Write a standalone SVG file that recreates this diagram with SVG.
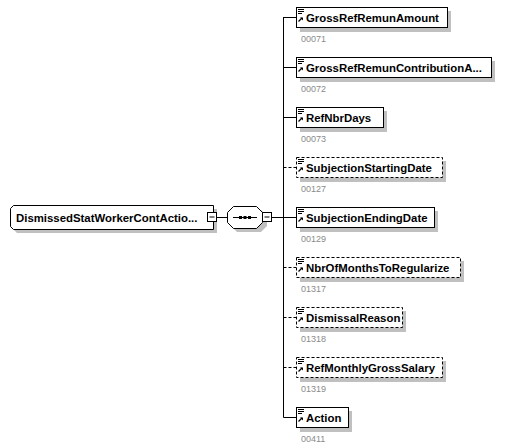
<svg xmlns="http://www.w3.org/2000/svg" xmlns:xlink="http://www.w3.org/1999/xlink" width="508" height="448" viewBox="0 0 508 448">
<style>
.box{fill:#fff;stroke:#000;stroke-width:1}
.opt{stroke-dasharray:3,2}
.sh{fill:#c0c0c0}
.lbl{font-family:"Liberation Sans",Arial,sans-serif;font-weight:bold;font-size:11.4px;fill:#000}
.id{font-family:"Liberation Sans",Arial,sans-serif;font-size:9px;fill:#8a8a8a}
.ln{stroke:#000;stroke-width:1;fill:none}
</style>
<defs>
<g id="ico">
<path d="M0,0.5H6M0,2.5H6M0,4.5H4" stroke="#000" stroke-width="1" fill="none"/>
<path d="M0.5,12.5L4,9" stroke="#000" stroke-width="1.2"/>
<path d="M2,8.5H5V11.5Z" fill="#000"/>
</g>
</defs>
<rect width="508" height="448" fill="#fff"/>
<g id="connectors">
<path class="ln" d="M216,217.5H227M271,217.5H283.5M283.5,17V417.5"/>
<path class="ln" d="M283.5,17.5H296.5M283.5,67.5H296.5M283.5,117.5H296.5M283.5,217.5H296.5M283.5,417.5H296.5"/>
<path class="ln opt" d="M283.5,167.5H296.5M283.5,267.5H296.5M283.5,317.5H296.5M283.5,367.5H296.5"/>
</g>
<g id="parent">
<path class="sh" d="M17,209H217V233H17L14,230V212Z"/>
<path class="box" d="M13.5,205.5H213.5V229.5H13.5L10.5,226.5V208.5Z"/>
<text class="lbl" x="16" y="222">DismissedStatWorkerContActio...</text>
<rect class="box" x="207.5" y="212.5" width="9" height="9"/>
<path class="ln" d="M209.5,217H214.5"/>
</g>
<g id="sequence">
<path class="sh" d="M237,210H261L267,216V226L261,232H237L231,226V216Z"/>
<path class="box" d="M233.5,206.5H256.5L262.5,212.5V222.5L256.5,228.5H233.5L227.5,222.5V212.5Z"/>
<path class="ln" d="M233,217.5H257"/>
<rect x="239" y="216" width="3" height="3" fill="#000"/>
<rect x="243.5" y="216" width="3" height="3" fill="#000"/>
<rect x="248" y="216" width="3" height="3" fill="#000"/>
<rect class="box" x="262.5" y="212.5" width="9" height="9"/>
<path class="ln" d="M264.5,217H269.5"/>
</g>
<g id="n0">
<rect class="sh" x="300" y="11" width="151" height="21"/>
<rect class="box" x="296.5" y="7.5" width="151" height="20"/>
<use xlink:href="#ico" x="298" y="9"/>
<text class="lbl" x="306" y="22">GrossRefRemunAmount</text>
<text class="id" x="301" y="42">00071</text>
</g>
<g id="n1">
<rect class="sh" x="300" y="61" width="195" height="21"/>
<rect class="box" x="296.5" y="57.5" width="195" height="20"/>
<use xlink:href="#ico" x="298" y="59"/>
<text class="lbl" x="306" y="72">GrossRefRemunContributionA...</text>
<text class="id" x="301" y="92">00072</text>
</g>
<g id="n2">
<rect class="sh" x="300" y="111" width="87" height="21"/>
<rect class="box" x="296.5" y="107.5" width="87" height="20"/>
<use xlink:href="#ico" x="298" y="109"/>
<text class="lbl" x="306" y="122">RefNbrDays</text>
<text class="id" x="301" y="142">00073</text>
</g>
<g id="n3">
<rect class="sh" x="300" y="161" width="146" height="21"/>
<rect class="box opt" x="296.5" y="157.5" width="146" height="20"/>
<use xlink:href="#ico" x="298" y="159"/>
<text class="lbl" x="306" y="172">SubjectionStartingDate</text>
<text class="id" x="301" y="192">00127</text>
</g>
<g id="n4">
<rect class="sh" x="300" y="211" width="138" height="21"/>
<rect class="box" x="296.5" y="207.5" width="138" height="20"/>
<use xlink:href="#ico" x="298" y="209"/>
<text class="lbl" x="306" y="222">SubjectionEndingDate</text>
<text class="id" x="301" y="242">00129</text>
</g>
<g id="n5">
<rect class="sh" x="300" y="261" width="164" height="21"/>
<rect class="box opt" x="296.5" y="257.5" width="164" height="20"/>
<use xlink:href="#ico" x="298" y="259"/>
<text class="lbl" x="306" y="272">NbrOfMonthsToRegularize</text>
<text class="id" x="301" y="292">01317</text>
</g>
<g id="n6">
<rect class="sh" x="300" y="311" width="106" height="21"/>
<rect class="box opt" x="296.5" y="307.5" width="106" height="20"/>
<use xlink:href="#ico" x="298" y="309"/>
<text class="lbl" x="306" y="322">DismissalReason</text>
<text class="id" x="301" y="342">01318</text>
</g>
<g id="n7">
<rect class="sh" x="300" y="361" width="146" height="21"/>
<rect class="box opt" x="296.5" y="357.5" width="146" height="20"/>
<use xlink:href="#ico" x="298" y="359"/>
<text class="lbl" x="306" y="372">RefMonthlyGrossSalary</text>
<text class="id" x="301" y="392">01319</text>
</g>
<g id="n8">
<rect class="sh" x="300" y="411" width="52" height="21"/>
<rect class="box" x="296.5" y="407.5" width="52" height="20"/>
<use xlink:href="#ico" x="298" y="409"/>
<text class="lbl" x="306" y="422">Action</text>
<text class="id" x="301" y="442">00411</text>
</g>
</svg>
